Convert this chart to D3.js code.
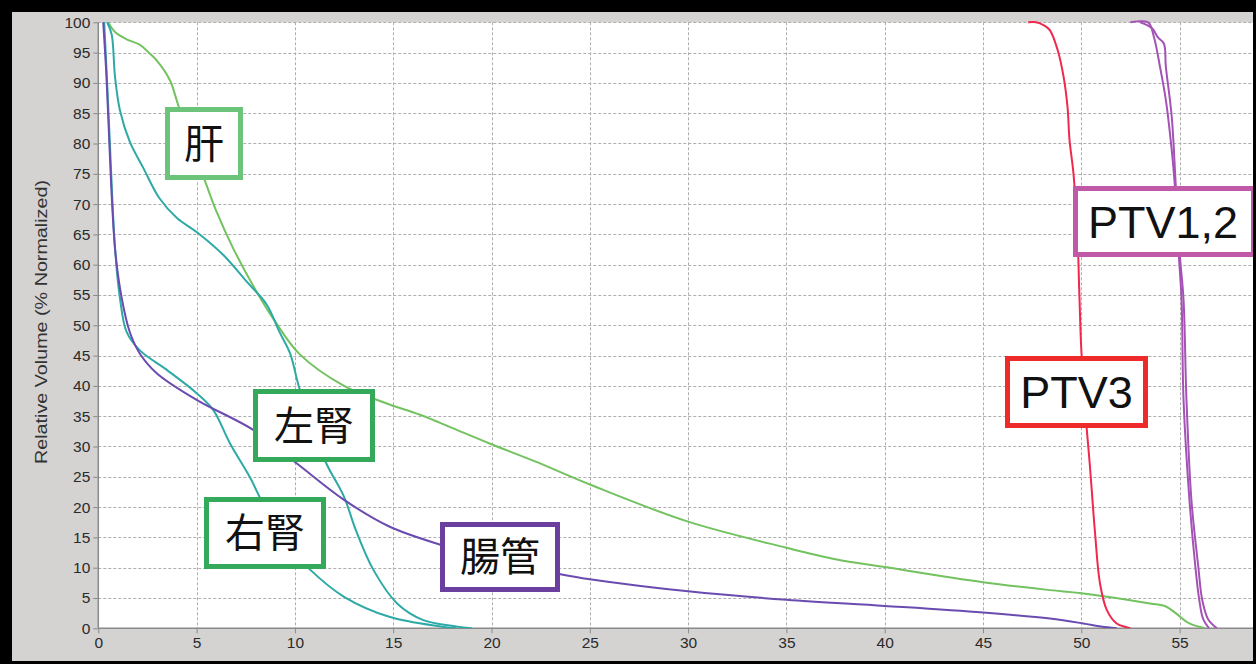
<!DOCTYPE html>
<html>
<head>
<meta charset="utf-8">
<script src="https://cdn.jsdelivr.net/npm/d3@7"></script>
<style>
  html, body { margin: 0; padding: 0; background: #000; }
  svg { display: block; }
</style>
</head>
<body>
<div id="chart"></div>
<script>
// DVH curves, [dose (Gy), relative volume (%)]
const liver = [[0.5,100],[0.85,98.4],[1.44,97.2],[2.1,96.3],[2.63,94.8],[3.0,93.6],[3.65,90.4],[4.0,87],[4.6,81],[5.0,77.5],[5.44,73.7],[6.02,68.7],[6.86,62.7],[8.06,55.5],[9.0,50.6],[10.25,45.2],[12.5,40],[14.5,37.3],[16.4,35.2],[17.9,33.2],[19.9,30.5],[22.25,27.5],[25.1,23.6],[30,17.6],[35,13.3],[37.5,11.4],[40,10.1],[45,7.6],[48.4,6.3],[50,5.8],[53.5,4.1],[54.3,3.6],[54.8,2.5],[55.5,0.8],[56.3,0]];
const leftKidney = [[0.45,100],[0.68,98],[0.85,91],[1.1,85.5],[1.6,80.3],[2.3,75.9],[3.1,71],[4.0,67.7],[5.0,65.4],[6.36,61.6],[7.55,57.2],[8.57,53.4],[9.2,49],[9.75,45.4],[10.2,39.9],[10.8,34],[11.6,27.2],[12.5,21.7],[13.1,16.2],[14,9.6],[15.2,4.1],[16.5,1.4],[18.2,0.3],[19.0,0]];
const rightKidney = [[0.3,100],[0.45,90],[0.6,79.2],[0.85,62.7],[1.1,54.5],[1.44,48.9],[2.1,45.9],[3.5,42.6],[5.0,38.8],[5.85,36],[6.7,30.5],[7.7,25],[8.2,21.7],[9.0,16.5],[10.0,12.5],[10.8,9.6],[12.5,5.2],[14.8,1.9],[17.4,0.3],[18.2,0]];
const bowel = [[0.25,100],[0.4,92],[0.5,84.7],[0.85,62.7],[1.19,54.5],[1.6,48.9],[2.1,45.4],[2.97,42.1],[5.0,37.7],[7.9,32.7],[10.1,27.2],[12.5,21.2],[14.8,16.8],[17.4,13.8],[20,11.5],[23.7,8.8],[25,8.1],[30,6.1],[35,4.7],[40,3.7],[45,2.6],[48.4,1.6],[50.1,0.8],[51,0.3],[51.8,0]];
const ptv3 = [[47.3,100],[47.7,100],[48.1,99.5],[48.4,98.7],[48.8,95.4],[49.1,91],[49.3,86],[49.4,80.6],[49.6,75.1],[49.8,65.2],[49.9,55.3],[50.0,46],[50.2,36],[50.44,26.7],[50.7,15.7],[50.95,7.4],[51.3,3.0],[51.8,0.8],[52.3,0.2],[52.5,0]];
const ptv1 = [[52.5,100],[53.4,100],[53.7,97.5],[54.0,92.7],[54.3,87.2],[54.6,78.9],[54.75,73.4],[54.95,62],[55.1,54.2],[55.2,37.7],[55.5,21.2],[55.8,10.2],[56.0,4.7],[56.2,1.5],[56.5,0]];
const ptv2 = [[53.0,100],[53.6,99],[53.9,97.5],[54.2,96.5],[54.3,92.7],[54.6,84.4],[54.8,73.4],[55.0,62],[55.2,54.2],[55.35,37.7],[55.6,21.2],[55.95,10.2],[56.15,4.7],[56.45,1.5],[56.9,0]];

const xTicks = [0,5,10,15,20,25,30,35,40,45,50,55];
const yTicks = d3.range(0, 101, 5);
const yTitle = "Relative Volume (% Normalized)";
const labelTexts = ["肝","左腎","右腎","腸管","PTV3","PTV1,2"];

// drawing setup
const W = 1256, H = 664;
const plot = {left: 98.3, right: 1253, top: 22.3, bottom: 628.3};

const series = [
  {data: liver, color: "#72c25f"},
  {data: leftKidney, color: "#2eaaa6"},
  {data: rightKidney, color: "#2eaaa6"},
  {data: bowel, color: "#6a4bb0"},
  {data: ptv3, color: "#f0284e"},
  {data: ptv1, color: "#a452b6"},
  {data: ptv2, color: "#a452b6"}
];

// label boxes in pixel space: x0,y0,x1,y1
const boxes = [
  {b: [165,107,243,180], stroke: "#6cc47a", size: 40, cjk: true},
  {b: [253,389,375,462], stroke: "#35a95a", size: 40, cjk: true},
  {b: [204,497,326,569], stroke: "#35a95a", size: 40, cjk: true},
  {b: [440,522,560,592], stroke: "#6a3f9e", size: 40, cjk: true},
  {b: [1005,356,1148,428], stroke: "#ee2a2a", size: 45, cjk: false},
  {b: [1073,186,1256,257], stroke: "#c05aa8", size: 45, cjk: false}
];

const svg = d3.select("#chart").append("svg")
    .attr("width", W)
    .attr("height", H);

// black frame and grey panel
svg.append("rect").attr("width", W).attr("height", H).attr("fill", "#000");
svg.append("rect")
    .attr("x", 12).attr("y", 12)
    .attr("width", 1253 - 12).attr("height", 661 - 12)
    .attr("fill", "#d4d3d2");

const xScale = d3.scaleLinear()
    .domain([0, (plot.right - plot.left) / 19.66])
    .range([plot.left, plot.right]);
const yScale = d3.scaleLinear()
    .domain([0, 100])
    .range([plot.bottom, plot.top]);

svg.append("rect")
    .attr("x", plot.left).attr("y", plot.top)
    .attr("width", plot.right - plot.left)
    .attr("height", plot.bottom - plot.top)
    .attr("fill", "#fff");

// grid
const grid = svg.append("g").attr("class", "grid")
    .attr("stroke", "#aeaeae").attr("stroke-width", 1)
    .attr("stroke-dasharray", "3,2");
grid.selectAll(".hg").data(yTicks.filter(d => d > 0)).join("line")
    .attr("x1", plot.left).attr("x2", plot.right)
    .attr("y1", d => Math.round(yScale(d)) + 0.5)
    .attr("y2", d => Math.round(yScale(d)) + 0.5);
grid.selectAll(".vg").data(xTicks.filter(d => d > 0)).join("line")
    .attr("y1", plot.top).attr("y2", plot.bottom)
    .attr("x1", d => Math.round(xScale(d)) + 0.5)
    .attr("x2", d => Math.round(xScale(d)) + 0.5);

// axes
const xAxis = d3.axisBottom(xScale).tickValues(xTicks).tickSize(5).tickPadding(4);
const yAxis = d3.axisLeft(yScale).tickValues(yTicks).tickSize(5).tickPadding(3);

const xAxisG = svg.append("g")
    .attr("transform", "translate(0," + plot.bottom + ")")
    .call(xAxis);
const yAxisG = svg.append("g")
    .attr("transform", "translate(" + plot.left + ",0)")
    .call(yAxis);

[xAxisG, yAxisG].forEach(g => {
    g.select(".domain").attr("stroke", "#8a8a8a").attr("stroke-width", 1.5);
    g.selectAll(".tick line").attr("stroke", "#8a8a8a");
    g.selectAll(".tick text")
        .attr("fill", "#2a2a2a")
        .style("font-family", "'Liberation Sans', Arial, sans-serif")
        .style("font-size", "15.5px");
});
xAxisG.select(".domain").attr("d", "M" + plot.left + ",0H" + plot.right);
yAxisG.select(".domain").attr("d", "M0," + plot.bottom + "V" + plot.top);

svg.append("text")
    .attr("transform", "translate(47,322) rotate(-90)")
    .attr("text-anchor", "middle")
    .attr("fill", "#333")
    .style("font-family", "'Liberation Sans', Arial, sans-serif")
    .style("font-size", "17px")
    .attr("textLength", 284)
    .attr("lengthAdjust", "spacingAndGlyphs")
    .text(yTitle);

// curves
const line = d3.line()
    .x(d => xScale(d[0]))
    .y(d => yScale(d[1]))
    .curve(d3.curveCatmullRom.alpha(0.5));

svg.append("clipPath").attr("id", "plotClip")
    .append("rect")
    .attr("x", plot.left).attr("y", plot.top - 2)
    .attr("width", plot.right - plot.left)
    .attr("height", plot.bottom - plot.top + 2);

svg.append("g").attr("clip-path", "url(#plotClip)")
    .selectAll(".curve").data(series).join("path")
    .attr("class", "curve")
    .attr("d", s => line(s.data))
    .attr("fill", "none")
    .attr("stroke", s => s.color)
    .attr("stroke-width", 2)
    .attr("stroke-linejoin", "round");

// labels
const lab = svg.append("g").selectAll(".lab").data(boxes).join("g").attr("class", "lab");
lab.append("rect")
    .attr("x", d => d.b[0] + 2.5)
    .attr("y", d => d.b[1] + 2.5)
    .attr("width", d => d.b[2] - d.b[0] - 5)
    .attr("height", d => d.b[3] - d.b[1] - 5)
    .attr("fill", "#fff")
    .attr("stroke", d => d.stroke)
    .attr("stroke-width", 5);
lab.append("text")
    .attr("x", d => (d.b[0] + Math.min(d.b[2], 1253)) / 2)
    .attr("y", d => (d.b[1] + d.b[3]) / 2)
    .attr("dy", "0.36em")
    .attr("text-anchor", "middle")
    .attr("fill", "#111")
    .style("font-family", d => d.cjk ? "'Noto Sans CJK JP', sans-serif" : "'Liberation Sans', Arial, sans-serif")
    .style("font-size", d => d.size + "px")
    .text((d, i) => labelTexts[i]);

// right black edge on top of box
svg.append("rect").attr("x", 1253).attr("y", 0).attr("width", 3).attr("height", H).attr("fill", "#000");
</script>
</body>
</html>
